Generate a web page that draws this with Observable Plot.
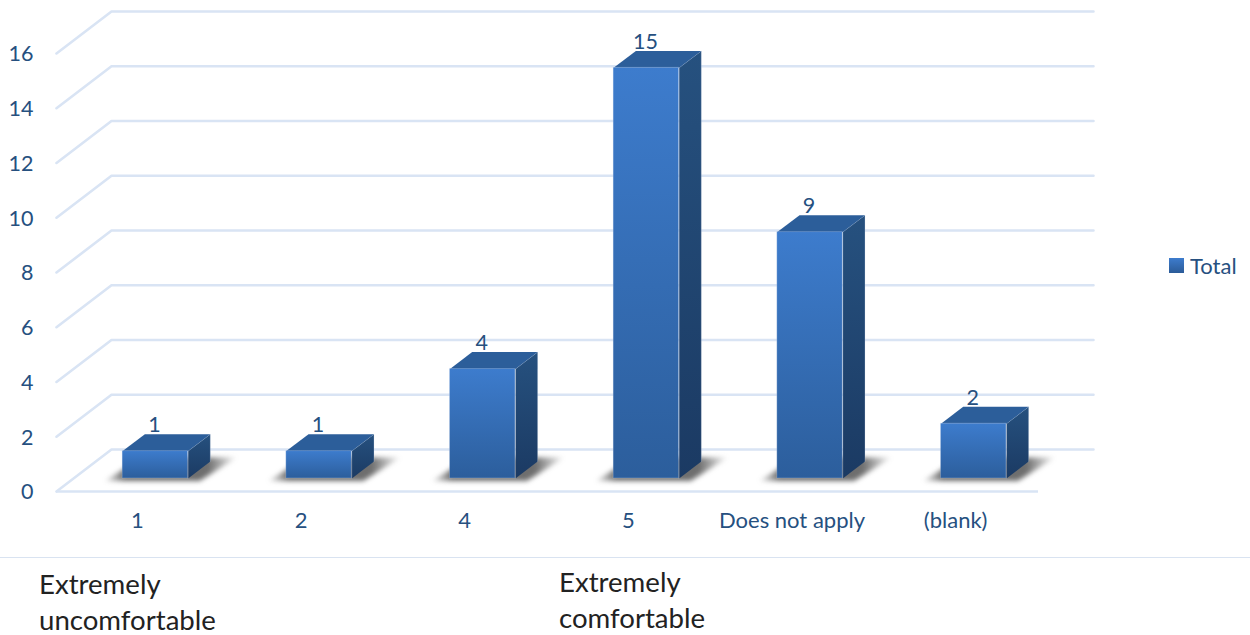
<!DOCTYPE html>
<html>
<head>
<meta charset="utf-8">
<script src="https://cdn.jsdelivr.net/npm/d3@7"></script>
<script src="https://cdn.jsdelivr.net/npm/@observablehq/plot@0.6"></script>
<style>
  html, body { margin: 0; padding: 0; background: #fff; }
  #page { position: relative; width: 1250px; height: 635px; overflow: hidden; font-family: Lato, sans-serif; }
  #page svg { display: block; }
  .legend { position: absolute; left: 1169px; top: 251px; display: flex; align-items: center; height: 28px; color: #26507f; font-size: 22px; }
  .legend i { display: block; width: 15px; height: 15px; margin-right: 6px; background: linear-gradient(#3d7ccd, #2b5b98); }
  .notes { position: absolute; left: 0; top: 557px; width: 1250px; height: 78px; border-top: 1px solid #d9e3f1; box-sizing: border-box; color: #222; font-size: 27.6px; line-height: 36px; }
  .notes div { position: absolute; }
</style>
</head>
<body>
<div id="page"></div>
<script>
// Survey answers and how many respondents gave each one
const categories = ["1", "2", "4", "5", "Does not apply", "(blank)"];
const totals = [1, 1, 4, 15, 9, 2];
const yTicks = [0, 2, 4, 6, 8, 10, 12, 14, 16];

// Oblique depth of the chart floor, in x slots and y units
const depthX = 0.336;
const depthY = 1.533;
// Where the bars stand on the floor, and their half width
const barFront = 0.31;
const barBack = 0.714;
const halfWidth = 0.2;

const project = (x, y, d) => ({x: x + d * depthX, y: y + d * depthY});

// Wall and side gridlines: each one runs back from the axis and along the wall
const grid = yTicks.flatMap((v) => [
  {v, ...project(0, v, 0)},
  {v, ...project(0, v, 1)},
  {v, ...project(categories.length, v, 1)}
]);

const bars = categories.map((name, i) => ({name, i, value: totals[i], cx: i + 0.5}));

const polygon = (b, corners) => corners.map(([side, v, d]) => ({
  name: b.name,
  ...project(b.cx + side * halfWidth, v, d)
}));

const sideFaces = bars.flatMap((b) => polygon(b, [
  [1, 0, barFront], [1, b.value, barFront], [1, b.value, barBack], [1, 0, barBack]
]));
const topFaces = bars.flatMap((b) => polygon(b, [
  [-1, b.value, barFront], [1, b.value, barFront], [1, b.value, barBack], [-1, b.value, barBack]
]));
const shadows = bars.flatMap((b) => [
  {name: b.name, ...project(b.cx - 0.29, 0, 0.25)},
  {name: b.name, ...project(b.cx + 0.29, 0, 0.25)},
  {name: b.name, ...project(b.cx + 0.33, 0, 0.81)},
  {name: b.name, ...project(b.cx - 0.25, 0, 0.81)}
]);

// Gradients shared by the bar faces and their floor shadows
function gradients() {
  const defs = d3.create("svg:defs");
  const add = (id, top, bottom) => {
    const g = defs.append("linearGradient").attr("id", id).attr("x1", 0).attr("x2", 0).attr("y1", 0).attr("y2", 1);
    g.append("stop").attr("offset", 0).attr("stop-color", top);
    g.append("stop").attr("offset", 1).attr("stop-color", bottom);
  };
  add("barFront", "#3d7ccd", "#2c5e9c");
  add("barSide", "#26517f", "#1b3a63");
  const s = defs.append("linearGradient").attr("id", "floorShadow");
  [[0, 0.08], [0.15, 0.8], [0.78, 0.8], [1, 0.03]].forEach(([offset, opacity]) => {
    s.append("stop").attr("offset", offset).attr("stop-color", "#4a4a4a").attr("stop-opacity", opacity);
  });
  return defs.node();
}

const chart = Plot.plot({
  width: 1250,
  height: 557,
  marginLeft: 56,
  marginRight: 212,
  marginTop: 53,
  marginBottom: 66,
  style: {background: "transparent", fontFamily: "Lato, sans-serif", color: "#26507f"},
  x: {type: "linear", domain: [0, categories.length]},
  y: {domain: [0, 16]},
  marks: [
    gradients,
    Plot.line(grid, {x: "x", y: "y", z: "v", stroke: "#d9e4f4", strokeWidth: 2.6}),
    Plot.ruleY([0], {stroke: "#d9e4f4", strokeWidth: 2.6}),
    Plot.line(shadows, {x: "x", y: "y", z: "name", stroke: "none", fill: "url(#floorShadow)", imageFilter: "blur(2.5px)"}),
    Plot.line(sideFaces, {x: "x", y: "y", z: "name", stroke: "#dbe4f2", strokeOpacity: 0.25, strokeWidth: 1, fill: "url(#barSide)"}),
    Plot.line(topFaces, {x: "x", y: "y", z: "name", stroke: "none", fill: "#2c5e9a"}),
    Plot.rect(bars, {
      x1: (b) => project(b.cx - halfWidth, 0, barFront).x,
      x2: (b) => project(b.cx + halfWidth, 0, barFront).x,
      y1: (b) => project(0, 0, barFront).y,
      y2: (b) => project(0, b.value, barFront).y,
      fill: "url(#barFront)",
      stroke: "#dbe4f2",
      strokeOpacity: 0.25,
      strokeWidth: 1
    }),
    Plot.text(bars, {
      x: (b) => project(b.cx, 0, barFront).x,
      y: (b) => project(0, b.value, barBack).y,
      text: (b) => String(b.value),
      dy: -9,
      dx: -1,
      fontSize: 21.5,
      fill: "#26507f"
    }),
    Plot.axisY({ticks: yTicks, tickSize: 0, tickPadding: 23, dy: 1, fontSize: 21.5, label: null, fill: "#26507f"}),
    Plot.axisX({
      ticks: bars.map((b) => b.cx),
      tickFormat: (c) => categories[Math.floor(c)],
      tickSize: 0,
      tickPadding: 21,
      dx: -1,
      fontSize: 22,
      label: null,
      fill: "#26507f"
    })
  ]
});

const page = document.getElementById("page");
page.append(chart);

const legend = document.createElement("div");
legend.className = "legend";
legend.innerHTML = "<i></i><span>Total</span>";
page.append(legend);

// Scale anchors written under the chart
const notes = document.createElement("div");
notes.className = "notes";
notes.innerHTML = `
  <div style="left:39px;top:8px">Extremely<br>uncomfortable</div>
  <div style="left:559px;top:6px">Extremely<br>comfortable</div>`;
page.append(notes);
</script>
</body>
</html>
